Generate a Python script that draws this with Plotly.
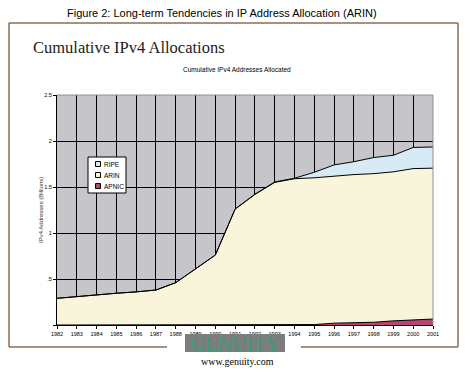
import plotly.graph_objects as go

years = list(range(1982, 2002))
year_labels = [str(y) for y in years]
apnic = [0, 0, 0, 0, 0, 0, 0, 0, 0, 0, 0, 0, 0, 0.005, 0.02, 0.025, 0.03, 0.045, 0.055, 0.065]
arin = [0.29, 0.31, 0.33, 0.345, 0.36, 0.38, 0.46, 0.61, 0.76, 1.26, 1.42, 1.55, 1.59, 1.595, 1.60, 1.61, 1.615, 1.62, 1.645, 1.64]
ripe = [0, 0, 0, 0, 0, 0, 0, 0, 0, 0, 0, 0.005, 0.005, 0.06, 0.12, 0.14, 0.175, 0.18, 0.23, 0.23]
y_ticks = [0, 0.5, 1, 1.5, 2, 2.5]
y_tick_labels = ["", ".5", "1", "1.5", "2", "2.5"]
series_names = ["APNIC", "ARIN", "RIPE"]
series_colors = ["#b5466f", "#f8f5da", "#d6ebf6"]

W, H = 470, 372
L, R, T, B = 57, 433, 95, 325

fig = go.Figure()
for name, vals, col in zip(series_names, [apnic, arin, ripe], series_colors):
    fig.add_trace(go.Scatter(x=years, y=vals, name=name, stackgroup="one", mode="lines",
                             line=dict(color="black", width=1), fillcolor=col, showlegend=False,
                             hoverinfo="x+y+name"))

fx = lambda x: (x - L) / (R - L)
fy = lambda y: (B - y) / (B - T)
frame = "#8e6d52"
shapes = [
    dict(type="line", xref="paper", yref="paper", x0=fx(9), x1=fx(458), y0=fy(23), y1=fy(23), line=dict(color=frame, width=1.5)),
    dict(type="line", xref="paper", yref="paper", x0=fx(9), x1=fx(9), y0=fy(23), y1=fy(347), line=dict(color=frame, width=1.5)),
    dict(type="line", xref="paper", yref="paper", x0=fx(458), x1=fx(458), y0=fy(23), y1=fy(347), line=dict(color=frame, width=1.5)),
    dict(type="line", xref="paper", yref="paper", x0=fx(9), x1=fx(167), y0=fy(347), y1=fy(347), line=dict(color=frame, width=1.5)),
    dict(type="line", xref="paper", yref="paper", x0=fx(301), x1=fx(458), y0=fy(347), y1=fy(347), line=dict(color=frame, width=1.5)),
    dict(type="line", xref="paper", yref="paper", x0=0, x1=1, y0=1, y1=1, line=dict(color="#909090", width=1)),
    dict(type="line", xref="paper", yref="paper", x0=1, x1=1, y0=0, y1=1, line=dict(color="#909090", width=1)),
    dict(type="rect", xref="paper", yref="paper", x0=fx(185), x1=fx(285), y0=fy(352), y1=fy(334),
         fillcolor="#7d7d7d", line=dict(width=0), layer="above"),
    # legend box
    dict(type="rect", xref="paper", yref="paper", x0=fx(88), x1=fx(126), y0=fy(193), y1=fy(157),
         fillcolor="white", line=dict(color="black", width=1), layer="above"),
]

annotations = [
    dict(text="Figure 2: Long-term Tendencies in IP Address Allocation (ARIN)", xref="paper", yref="paper",
         x=fx(222), y=fy(13), yanchor="middle", showarrow=False,
         font=dict(family="Liberation Sans, Arial", size=11, color="black")),
    dict(text="Cumulative IPv4 Allocations", xref="paper", yref="paper", x=fx(31), y=fy(47), xanchor="left",
         yanchor="middle", showarrow=False,
         font=dict(family="Liberation Serif, Times New Roman", size=16.5, color="#222222")),
    dict(text="Cumulative IPv4 Addresses Allocated", xref="paper", yref="paper", x=fx(237), y=fy(69),
         yanchor="middle", showarrow=False, font=dict(family="Liberation Sans, Arial", size=6.5, color="black")),
    dict(text="GENUITY", xref="paper", yref="paper", x=fx(235), y=fy(344), yanchor="middle",
         showarrow=False, font=dict(family="Liberation Serif, Times New Roman", size=20, color="#3a9a80")),
    dict(text="www.genuity.com", xref="paper", yref="paper", x=fx(237), y=fy(361), yanchor="middle",
         showarrow=False, font=dict(family="Liberation Serif, Times New Roman", size=10, color="black")),
    dict(text="IPv4 Addresses (Billions)", xref="paper", yref="paper", x=fx(41), y=fy(210), textangle=-90,
         xanchor="center", yanchor="middle",
         showarrow=False, font=dict(family="Liberation Sans, Arial", size=6, color="#333333")),
]

# manual legend entries (top to bottom: RIPE, ARIN, APNIC)
legend_rows = [164, 175, 186]
for (name, col), yy in zip(list(zip(series_names, series_colors))[::-1], legend_rows):
    shapes.append(dict(type="rect", xref="paper", yref="paper", x0=fx(95.5), x1=fx(100.5),
                       y0=fy(yy + 2.5), y1=fy(yy - 2.5), fillcolor=col,
                       line=dict(color="black", width=1), layer="above"))
    annotations.append(dict(text=name, xref="paper", yref="paper", x=fx(101.5), y=fy(yy),
                            xanchor="left", yanchor="middle", showarrow=False,
                            font=dict(family="Liberation Sans, Arial", size=6.5, color="black")))

fig.update_layout(
    width=W, height=H,
    margin=dict(l=L, r=W - R, t=T, b=H - B, pad=0),
    paper_bgcolor="white", plot_bgcolor="#c6c6ca",
    showlegend=False,
    xaxis=dict(range=[1982, 2001], tickvals=years, ticktext=year_labels, showgrid=True,
               gridcolor="black", gridwidth=1, showline=True, linecolor="black", linewidth=1,
               ticks="outside", ticklen=3, tickcolor="black",
               tickfont=dict(family="Liberation Sans, Arial", size=5.5, color="black"), zeroline=False),
    yaxis=dict(range=[0, 2.5], tickvals=y_ticks, ticktext=y_tick_labels, showgrid=True,
               gridcolor="black", gridwidth=1, showline=True, linecolor="black", linewidth=1,
               ticks="outside", ticklen=3, tickcolor="black",
               tickfont=dict(family="Liberation Sans, Arial", size=5.5, color="black"), zeroline=False),
    shapes=shapes,
    annotations=annotations,
)

fig.write_html("out.html", config={"displayModeBar": False},
               post_script="document.body.style.margin='0';document.body.style.overflow='hidden';")
